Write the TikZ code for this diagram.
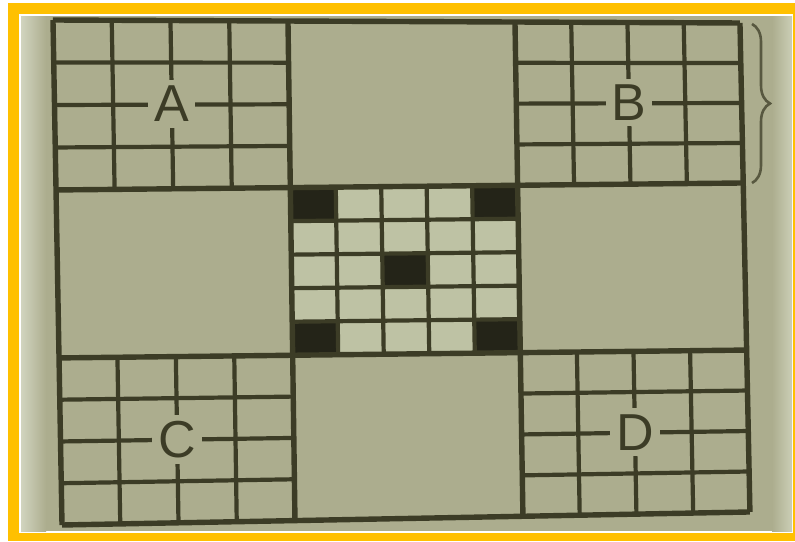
\documentclass[tikz,border=0pt]{standalone}
\usepackage{fontspec}
\setsansfont{Liberation Sans}
\usetikzlibrary{calc,decorations.pathreplacing}

\definecolor{frameyellow}{RGB}{255,192,0}
\definecolor{paper}{RGB}{172,173,142}
\definecolor{paperlight}{RGB}{190,194,164}
\definecolor{ink}{RGB}{60,60,38}
\definecolor{inkdark}{RGB}{36,36,24}

\tikzset{
  gridline/.style={ink, line width=2.1pt},
  blockline/.style={ink, line width=2.7pt},
  blacksq/.style={fill=inkdark},
  letter/.style={fill=paper, inner sep=3pt, text=ink, font=\sffamily\fontsize{26}{26}\selectfont},
}

\begin{document}
\begin{tikzpicture}[x=0.5pt, y=-0.5pt]
    \useasboundingbox (0,0) rectangle (795,541);

    % frame and photo
    \fill[frameyellow] (8,3) rectangle (795,541);
    \fill[white] (19,14) rectangle (793,533);
    \fill[paper] (21,16) rectangle (792,531);
    \shade[left color=paperlight!70!white, right color=paper] (21,16) rectangle (46,531);
    \shade[left color=paper, right color=paperlight!80!white] (772,16) rectangle (792,531);

    % ends of the long lines
    \coordinate (top0) at (53,21);   \coordinate (bot0) at (62,524);
    \coordinate (top1) at (288,21);  \coordinate (bot1) at (295,522);
    \coordinate (top2) at (515,22);  \coordinate (bot2) at (523,518);
    \coordinate (top3) at (740,23);  \coordinate (bot3) at (750,512);
    \coordinate (left0) at (53,20);  \coordinate (right0) at (740,23);
    \coordinate (left1) at (53,190); \coordinate (right1) at (740,183);
    \coordinate (left2) at (53,358); \coordinate (right2) at (750,350);
    \coordinate (left3) at (62,525); \coordinate (right3) at (750,512);

    % junctions
    \foreach \i in {0,...,3}
        \foreach \j in {0,...,3}
            \coordinate (p\i\j) at (intersection cs: first line={(top\i)--(bot\i)}, second line={(left\j)--(right\j)});

    % middle block
    \fill[paperlight] (p11) -- (p21) -- (p22) -- (p12) -- cycle;
    \foreach \a/\b in {0/0,4/0,2/2,0/4,4/4} {
        \pgfmathsetmacro\u{\a/5}
        \pgfmathsetmacro\uu{(\a+1)/5}
        \pgfmathsetmacro\v{\b/5}
        \pgfmathsetmacro\vv{(\b+1)/5}
        \path ($(p11)!\u!(p21)$) coordinate (n0) ($(p12)!\u!(p22)$) coordinate (s0)
              ($(p11)!\uu!(p21)$) coordinate (n1) ($(p12)!\uu!(p22)$) coordinate (s1);
        \fill[blacksq] ($(n0)!\v!(s0)$) -- ($(n1)!\v!(s1)$) -- ($(n1)!\vv!(s1)$) -- ($(n0)!\vv!(s0)$) -- cycle;
    }

    % small grids
    \foreach \i/\j/\n in {0/0/4, 2/0/4, 0/2/4, 2/2/4, 1/1/5} {
        \pgfmathtruncatemacro\ii{\i+1}
        \pgfmathtruncatemacro\jj{\j+1}
        \pgfmathtruncatemacro\m{\n-1}
        \foreach \k in {1,...,\m} {
            \draw[gridline] ($(p\i\j)!\k/\n!(p\ii\j)$) -- ($(p\i\jj)!\k/\n!(p\ii\jj)$);
            \draw[gridline] ($(p\i\j)!\k/\n!(p\i\jj)$) -- ($(p\ii\j)!\k/\n!(p\ii\jj)$);
        }
    }

    % big lines
    \foreach \i in {0,...,3} {
        \draw[blockline] (p\i0) -- (p\i3);
        \draw[blockline] (p0\i) -- (p3\i);
    }

    % labels
    \node (A)[letter] at ($(p00)!.5!(p11)$) {A};
    \node (B)[letter] at ($(p20)!.5!(p31)$) {B};
    \node (C)[letter] at ($(p02)!.5!(p13)$) {C};
    \node (D)[letter] at ($(p22)!.5!(p33)$) {D};

    % brace beside B
    \coordinate (bracetop) at (752,24);
    \coordinate (bracebot) at (752,183);
    \draw[ink!75!paper, line width=1.3pt, decorate, decoration={brace, amplitude=9pt}] (bracetop) -- (bracebot);
\end{tikzpicture}
\end{document}
